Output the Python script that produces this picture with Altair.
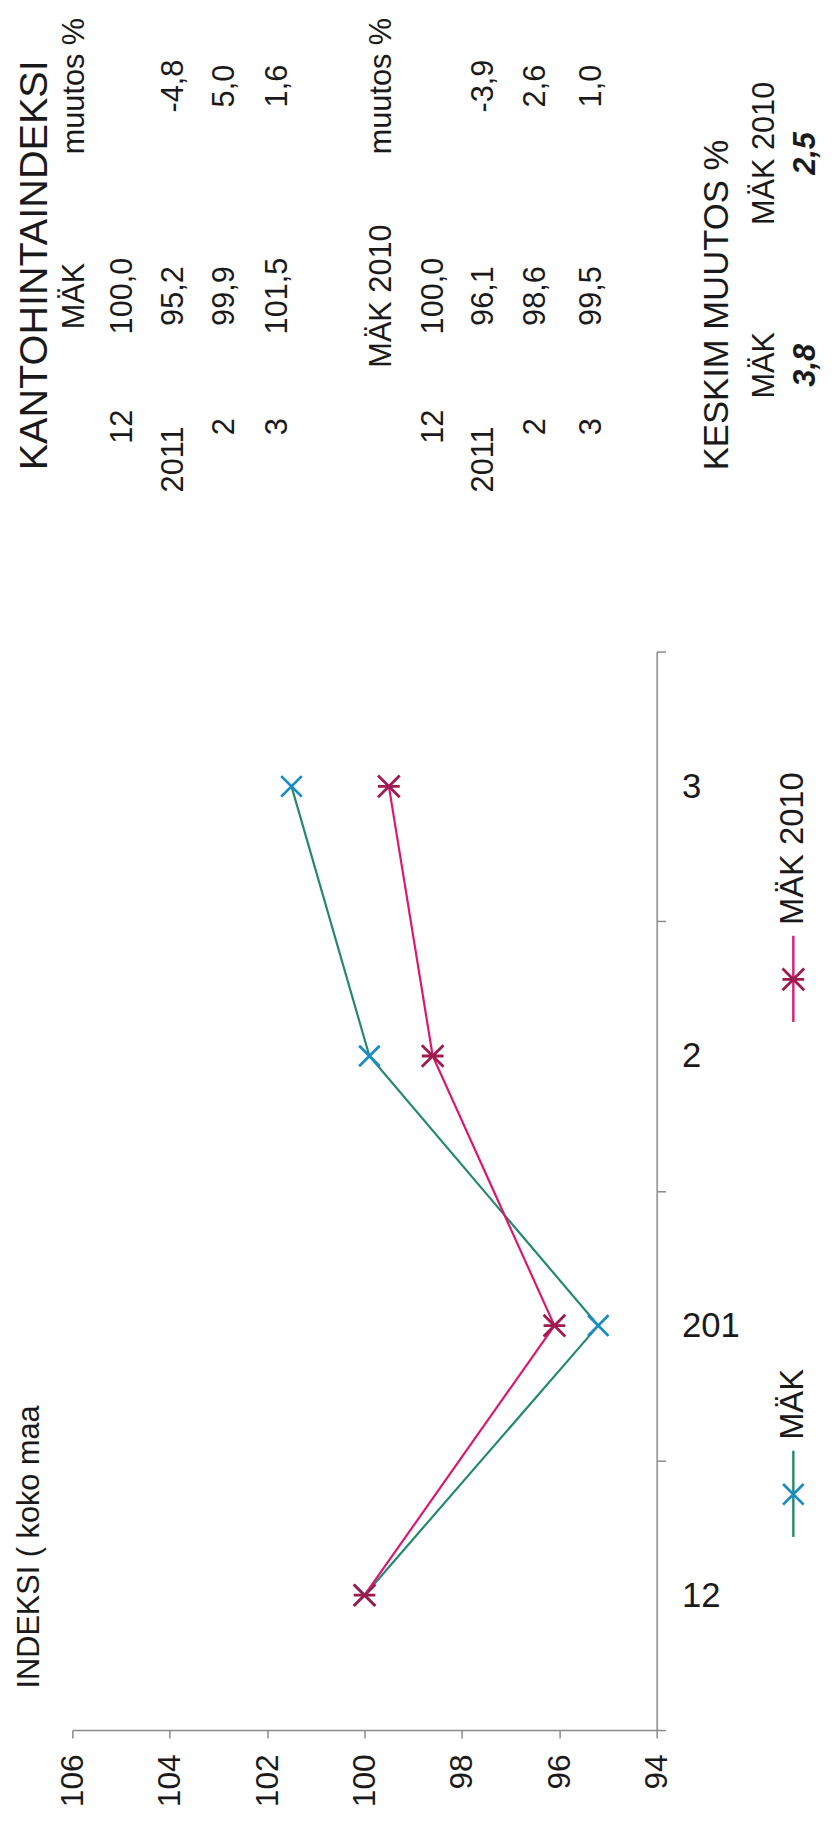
import altair as alt
import pandas as pd

# ---------------- data ----------------
categories = ["12", "201", "2", "3"]
series_names = ["MÄK", "MÄK 2010"]
mak_values = [100.0, 95.2, 99.9, 101.5]
mak2010_values = [100.0, 96.1, 98.6, 99.5]
value_ticks = [94, 96, 98, 100, 102, 104, 106]

table_title = "KANTOHINTAINDEKSI"
change_header = "muutos %"
month_labels = ["12", "2011", "2", "3"]
mak_index_text = ["100,0", "95,2", "99,9", "101,5"]
mak_change_text = ["", "-4,8", "5,0", "1,6"]
mak2010_index_text = ["100,0", "96,1", "98,6", "99,5"]
mak2010_change_text = ["", "-3,9", "2,6", "1,0"]
avg_title = "KESKIM MUUTOS %"
avg_change_text = ["3,8", "2,5"]
chart_title = "INDEKSI ( koko maa"

# ---------------- styles / layout ----------------
FONT = "Liberation Sans"
NARROW = "Liberation Sans Narrow, Liberation Sans"
TXT = "#1a1a1a"
AXIS_GRAY = "#8a8a8a"
LINE_COLORS = ["#24896c", "#dc176c"]
MARK_COLORS = ["#1a8cc4", "#9e1a4f"]
X_PATH = "M-1,-1L1,1M1,-1L-1,1"
STAR_PATH = "M-1,-1L1,1M1,-1L-1,1M-1,0L1,0"

# table layout (row slots -> horizontal pixel, column slots -> vertical pixel), relative to plot origin
ROW_X = [-38, 3, 51, 103, 154, 208, 260, 313, 365, 416, 468, 525, 588, 651, 699, 741]
COL_Y = [-571, -503, -359, -289, -227, -194, -183]

# ---------------- plot data ----------------
rows = []
for s, vals in zip(series_names, [mak_values, mak2010_values]):
    for i, (c, v) in enumerate(zip(categories, vals)):
        rows.append({"series": s, "cat": c, "idx": i, "value": v})
df = pd.DataFrame(rows)

x_enc = alt.X(
    "value:Q",
    scale=alt.Scale(domain=[94, 106], reverse=True, nice=False, zero=False),
    axis=alt.Axis(
        values=value_ticks, labelAngle=270, title=None, grid=False,
        labelFont=FONT, labelFontSize=32, labelColor=TXT,
        tickSize=8, labelPadding=16, domainColor=AXIS_GRAY, tickColor=AXIS_GRAY,
        domainWidth=1.5, tickWidth=1.5,
    ),
)
y_enc = alt.Y(
    "cat:N",
    bandPosition=0.5,
    scale=alt.Scale(type="band", domain=list(reversed(categories)), paddingInner=0, paddingOuter=0),
    axis=alt.Axis(
        orient="right", tickBand="extent", labelAngle=0, labelAlign="left",
        labelBaseline="middle", title=None, grid=False,
        labelFont=NARROW, labelFontSize=35, labelColor=TXT,
        tickSize=9, labelPadding=16, domainColor=AXIS_GRAY, tickColor=AXIS_GRAY,
        domainWidth=1.5, tickWidth=1.5,
    ),
)

lines = alt.Chart(df).mark_line(strokeWidth=2.2).encode(
    x=x_enc, y=y_enc,
    color=alt.Color("series:N", scale=alt.Scale(domain=series_names, range=LINE_COLORS), legend=None),
    order=alt.Order("idx:Q"),
)
points = alt.Chart(df).mark_point(filled=False, strokeWidth=2.8, opacity=1).encode(
    x=x_enc, y=y_enc,
    stroke=alt.Stroke("series:N", scale=alt.Scale(domain=series_names, range=MARK_COLORS), legend=None),
    shape=alt.Shape("series:N", scale=alt.Scale(domain=series_names, range=[X_PATH, STAR_PATH]), legend=None),
    size=alt.Size("series:N", scale=alt.Scale(domain=series_names, range=[430, 480]), legend=None),
)
plot = alt.layer(lines, points)

# ---------------- table ----------------
trows = []
def add(slot, col, text, group):
    if text:
        trows.append({"slot": slot, "col": col, "text": text, "group": group})

add(0, 6, table_title, "title")
add(1, 2, series_names[0], "body")
add(1, 0, change_header, "body")
for k in range(4):
    add(2 + k, 5 if len(month_labels[k]) > 2 else 4, month_labels[k], "body")
    add(2 + k, 2, mak_index_text[k], "body")
    add(2 + k, 0, mak_change_text[k], "body")
add(7, 2, series_names[1], "body")
add(7, 0, change_header, "body")
for k in range(4):
    add(8 + k, 5 if len(month_labels[k]) > 2 else 4, month_labels[k], "body")
    add(8 + k, 2, mak2010_index_text[k], "body")
    add(8 + k, 0, mak2010_change_text[k], "body")
add(13, 6, avg_title, "title2")
add(14, 3, series_names[0], "body")
add(14, 1, series_names[1], "body")
add(15, 3, avg_change_text[0], "bold")
add(15, 1, avg_change_text[1], "bold")
tdf = pd.DataFrame(trows)

tx = alt.X("slot:Q", scale=alt.Scale(domain=list(range(len(ROW_X))), range=ROW_X, nice=False, zero=False), axis=None)
ty = alt.Y("col:Q", scale=alt.Scale(domain=list(range(len(COL_Y))), range=COL_Y, nice=False, zero=False), axis=None)

tbase = alt.Chart(tdf)
t_title = tbase.transform_filter(alt.datum.group == "title").mark_text(
    angle=270, align="left", baseline="middle", font=FONT, fontSize=40, color=TXT
).encode(x=tx, y=ty, text="text:N")
t_title2 = tbase.transform_filter(alt.datum.group == "title2").mark_text(
    angle=270, align="left", baseline="middle", font=FONT, fontSize=35, color=TXT
).encode(x=tx, y=ty, text="text:N")
t_body = tbase.transform_filter(alt.datum.group == "body").mark_text(
    angle=270, align="center", baseline="middle", font=FONT, fontSize=31, color=TXT
).encode(x=tx, y=ty, text="text:N")
t_bold = tbase.transform_filter(alt.datum.group == "bold").mark_text(
    angle=270, align="center", baseline="middle", font=FONT, fontSize=31,
    fontWeight="bold", fontStyle="italic", color=TXT
).encode(x=tx, y=ty, text="text:N")
table = alt.layer(t_title, t_title2, t_body, t_bold)

# ---------------- legend & title ----------------
def legend_item(i, cy):
    d = pd.DataFrame({"series": [series_names[i]]})
    b = alt.Chart(d)
    rule = b.mark_rule(strokeWidth=2.4, color=LINE_COLORS[i]).encode(
        x=alt.value(728), y=alt.value(cy - 44), y2=alt.value(cy + 43))
    mk = b.mark_point(shape=[X_PATH, STAR_PATH][i], filled=False, strokeWidth=2.8,
                      size=[430, 480][i], color=MARK_COLORS[i], opacity=1).encode(
        x=alt.value(728), y=alt.value(cy))
    tx_ = b.mark_text(angle=270, align="left", baseline="middle", font=FONT,
                      fontSize=33, color=TXT).encode(
        x=alt.value(728), y=alt.value(cy - 55), text="series:N")
    return alt.layer(rule, mk, tx_)

leg = alt.layer(legend_item(0, 851), legend_item(1, 331))

title = alt.Chart(pd.DataFrame({"t": [chart_title]})).mark_text(
    angle=270, align="left", baseline="middle", font=FONT, fontSize=31, color=TXT
).encode(x=alt.value(-43), y=alt.value(1047), text="t:N")

chart = alt.layer(plot, table, leg, title).resolve_scale(
    x="independent", y="independent"
).properties(
    width=590, height=1089,
    padding={"left": 65, "top": 641, "right": 173, "bottom": 83},
    autosize=alt.AutoSizeParams(type="none"),
    background="white",
).configure_view(stroke=None)

chart.save("out.html", embed_options={"renderer": "svg", "actions": False})
